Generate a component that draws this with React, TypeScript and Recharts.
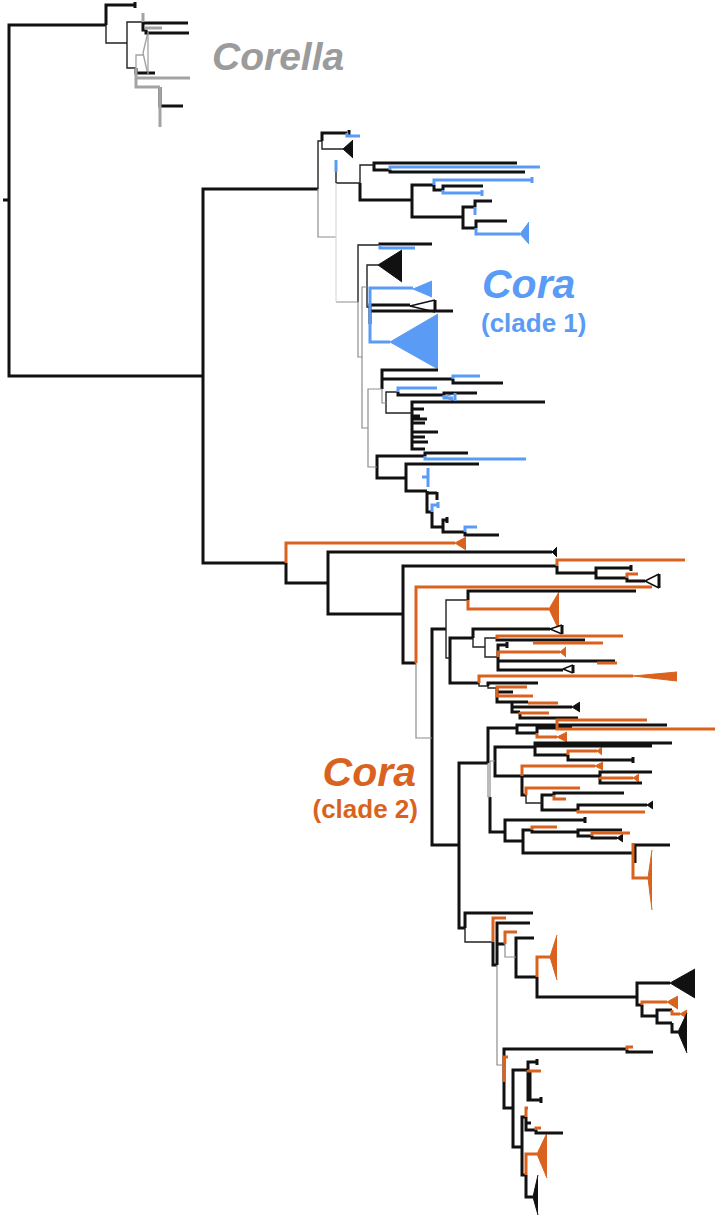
import { Area, ComposedChart, Line, XAxis, YAxis } from "recharts";

// branch elbows: [parentX, parentY, childY, childX, style]
const branches: [number, number, number, number, string][] = [
  // root + backbone
  [3, 200, 200, 9, "k"], [9, 200, 25, 106, "k"], [9, 200, 376, 203, "k"],
  [203, 376, 189, 318, "k"], [203, 376, 563, 286, "k"],
  // Corella
  [106, 25, 5, 135, "k"], [106, 25, 43, 127, "t"], [127, 43, 22, 143, "t"],
  [143, 22, 13, 143, "c"], [143, 22, 23, 188, "k"], [143, 22, 30, 146, "k"],
  [146, 30, 28, 162, "c"], [146, 30, 33, 189, "k"], [127, 43, 68, 136, "t"],
  [136, 68, 55, 143, "cl"], [136, 68, 73, 155, "k"], [136, 68, 78, 190, "c"],
  [136, 68, 87, 160, "c"], [160, 87, 106, 183, "k"], [160, 87, 127, 160, "c"],
  // Cora clade 1
  [318, 189, 141, 322, "t"], [322, 141, 133, 347, "k"], [347, 133, 136, 360, "b"],
  [322, 141, 149, 343, "t"], [318, 189, 237, 336, "g"],
  [336, 237, 183, 336, "w"], [336, 183, 183, 360, "t"], [336, 183, 172, 336, "t"], [336, 172, 160, 336, "b"],
  [336, 237, 302, 336, "w"], [336, 302, 302, 358, "g"],
  [360, 183, 165, 374, "t"], [374, 165, 163, 517, "k"], [374, 165, 170, 390, "k"],
  [390, 170, 167, 540, "b"], [390, 170, 172, 525, "k"],
  [360, 183, 200, 412, "k"], [412, 201, 185, 434, "k"], [434, 185, 180, 532, "b"],
  [434, 185, 190, 443, "k"], [443, 190, 186, 483, "k"], [443, 190, 193, 482, "b"],
  [412, 201, 217, 463, "k"], [463, 217, 207, 475, "k"], [475, 207, 201, 492, "k"],
  [475, 207, 215, 475, "b"], [463, 217, 228, 476, "k"], [476, 228, 221, 507, "k"],
  [476, 228, 234, 520, "b"],
  [358, 302, 245, 380, "t"], [380, 245, 244, 432, "k"], [380, 245, 248, 415, "b"],
  [358, 302, 357, 362, "g"], [362, 357, 287, 367, "g"], [367, 287, 265, 378, "t"],
  [367, 287, 307, 370, "t"], [370, 307, 288, 413, "b"], [370, 307, 305, 410, "k"],
  [370, 307, 311, 453, "k"], [370, 307, 342, 390, "b"], [370, 305, 324, 370, "k"],
  [362, 357, 428, 368, "g"], [368, 428, 389, 382, "g"], [382, 389, 370, 438, "k"],
  [382, 389, 379, 453, "k"], [453, 379, 376, 480, "b"], [453, 379, 383, 503, "k"],
  [382, 389, 403, 386, "g"], [386, 403, 392, 398, "t"], [398, 392, 388, 437, "b"],
  [398, 392, 395, 444, "k"], [444, 395, 393, 477, "k"], [444, 395, 398, 453, "b"],
  [386, 403, 413, 412, "t"], [412, 413, 402, 545, "k"], [412, 413, 409, 424, "k"],
  [412, 413, 416, 420, "k"], [412, 413, 419, 427, "k"], [412, 413, 423, 425, "k"],
  [412, 413, 432, 438, "k"], [412, 413, 437, 425, "k"], [412, 413, 442, 428, "k"],
  [412, 413, 449, 425, "k"],
  [368, 428, 467, 377, "g"], [377, 467, 456, 425, "k"], [425, 456, 453, 468, "k"],
  [425, 456, 459, 526, "b"], [377, 467, 478, 406, "k"], [406, 478, 464, 479, "k"],
  [406, 478, 491, 427, "k"], [428, 487, 468, 428, "b"], [422, 477, 477, 428, "b"],
  [427, 491, 493, 437, "k"], [427, 491, 512, 432, "k"], [432, 512, 505, 438, "b"],
  [432, 512, 527, 443, "k"], [443, 527, 520, 447, "k"], [443, 527, 532, 465, "k"],
  [465, 532, 527, 477, "b"], [465, 532, 535, 499, "k"],
  // Cora clade 2
  [286, 563, 543, 455, "o"], [286, 563, 583, 328, "k"], [328, 583, 552, 552, "k"],
  [328, 583, 614, 403, "k"], [403, 614, 566, 557, "k"], [557, 566, 560, 685, "o"],
  [557, 566, 573, 596, "k"], [596, 573, 568, 631, "k"], [596, 573, 578, 627, "k"],
  [627, 578, 574, 638, "o"], [627, 578, 581, 645, "k"],
  [403, 614, 663, 416, "k"], [416, 663, 587, 652, "o"], [416, 663, 738, 432, "g"],
  [432, 738, 629, 446, "k"], [446, 629, 600, 468, "t"], [468, 600, 591, 636, "k"],
  [468, 600, 609, 549, "o"], [446, 629, 658, 450, "t"], [450, 658, 638, 473, "k"],
  [473, 638, 629, 550, "k"], [473, 638, 647, 485, "t"], [485, 647, 638, 497, "t"],
  [497, 639, 636, 623, "o"], [497, 639, 640, 585, "k"], [533, 643, 643, 603, "o"],
  [485, 647, 657, 498, "t"], [498, 657, 645, 507, "k"], [498, 657, 652, 560, "o"],
  [498, 657, 661, 615, "k"], [597, 663, 663, 617, "o"], [498, 657, 670, 563, "k"],
  [450, 658, 683, 479, "k"], [479, 683, 676, 633, "o"], [479, 683, 686, 488, "t"],
  [488, 686, 683, 538, "k"], [488, 686, 688, 497, "t"], [497, 688, 687, 527, "o"],
  [497, 688, 692, 513, "k"], [497, 688, 696, 533, "o"], [497, 688, 702, 512, "k"],
  [512, 702, 702, 528, "k"], [528, 703, 703, 558, "o"], [512, 702, 707, 572, "k"],
  [512, 702, 712, 520, "k"], [520, 712, 713, 549, "o"], [520, 712, 718, 578, "k"],
  [432, 738, 845, 459, "k"], [459, 845, 763, 488, "k"], [488, 763, 728, 517, "k"],
  [517, 728, 725, 557, "k"], [557, 725, 720, 647, "o"], [557, 725, 725, 667, "k"],
  [557, 725, 729, 715, "o"], [517, 728, 733, 537, "k"], [537, 733, 728, 572, "k"],
  [537, 733, 737, 557, "o"],
  [488, 763, 797, 490, "g"], [490, 797, 761, 495, "g"], [495, 761, 747, 535, "k"],
  [535, 749, 743, 672, "k"], [535, 749, 746, 652, "k"], [535, 749, 755, 568, "k"],
  [568, 755, 751, 597, "o"], [568, 755, 760, 633, "k"],
  [495, 761, 776, 522, "k"], [522, 776, 766, 595, "o"], [522, 776, 776, 600, "k"],
  [600, 777, 772, 652, "k"], [600, 777, 778, 633, "o"], [600, 777, 783, 642, "k"],
  [522, 776, 795, 526, "k"], [526, 795, 788, 580, "o"], [526, 795, 803, 542, "t"],
  [542, 803, 795, 554, "k"], [554, 795, 793, 624, "k"], [554, 795, 799, 566, "o"],
  [542, 803, 810, 578, "k"], [578, 810, 805, 647, "k"], [578, 810, 812, 645, "o"],
  [490, 797, 832, 505, "k"], [505, 832, 820, 585, "k"], [505, 832, 841, 523, "k"],
  [523, 841, 830, 532, "k"], [532, 830, 827, 557, "o"], [532, 830, 832, 578, "k"],
  [578, 832, 830, 622, "k"], [578, 832, 836, 592, "k"], [592, 836, 833, 630, "o"],
  [592, 836, 838, 617, "k"], [523, 841, 853, 635, "k"], [635, 853, 845, 670, "k"],
  [635, 853, 863, 635, "k"], [633, 843, 878, 648, "o"],
  [459, 845, 928, 465, "k"], [465, 928, 913, 533, "k"], [465, 928, 942, 493, "t"],
  [493, 942, 918, 506, "o"], [493, 942, 965, 497, "k"], [497, 965, 923, 530, "k"],
  [497, 965, 944, 505, "k"], [505, 944, 932, 517, "o"], [505, 944, 957, 516, "g"],
  [516, 957, 938, 534, "k"], [516, 957, 977, 537, "k"], [537, 977, 957, 550, "o"],
  [537, 977, 997, 637, "k"], [637, 997, 983, 670, "k"], [637, 997, 1005, 642, "k"],
  [642, 1005, 1002, 667, "o"], [642, 1005, 1016, 657, "k"], [657, 1016, 1010, 672, "k"],
  [672, 1010, 1014, 680, "o"], [657, 1016, 1023, 672, "k"], [672, 1023, 1032, 678, "k"],
  [497, 965, 1065, 504, "g"], [504, 1065, 1049, 627, "k"], [627, 1050, 1047, 633, "o"],
  [627, 1050, 1052, 653, "k"], [504, 1065, 1057, 508, "o"], [504, 1065, 1082, 504, "o"],
  [504, 1065, 1108, 513, "k"], [513, 1108, 1070, 528, "k"], [528, 1070, 1062, 537, "k"],
  [528, 1070, 1071, 541, "o"], [530, 1072, 1100, 530, "k"], [528, 1070, 1100, 541, "k"],
  [513, 1108, 1147, 522, "k"], [522, 1147, 1117, 526, "k"], [526, 1117, 1108, 528, "o"],
  [526, 1117, 1123, 531, "k"], [526, 1117, 1130, 536, "k"], [536, 1130, 1128, 541, "o"],
  [536, 1130, 1133, 563, "k"], [522, 1147, 1175, 526, "k"], [526, 1175, 1154, 537, "o"],
  [526, 1175, 1197, 533, "k"],
];

// tip end bars: [x, y, halfLength, style]
const tipBars: [number, number, number, string][] = [
  [135, 5, 3, "k"], [349, 133, 3, "k"], [532, 180, 3, "b"], [482, 193, 3, "b"],
  [437, 496, 4, "k"], [438, 505, 3, "b"], [447, 520, 3, "k"], [631, 568, 3, "k"],
  [507, 645, 3, "k"], [633, 760, 3, "k"], [585, 820, 3, "k"], [537, 1062, 3, "k"],
  [541, 1100, 3, "k"],
];

// collapsed clades: [apexX, apexY, baseX, baseTop, baseBottom, style]
const clades: [number, number, number, number, number, string][] = [
  [143, 53, 148, 32, 75, "cl-open"],
  [343, 149, 353, 140, 158, "k"],
  [520, 234, 529, 222, 244, "b"],
  [378, 265, 402, 250, 282, "k"],
  [413, 289, 432, 281, 297, "b"],
  [410, 306, 435, 300, 312, "k-open"],
  [390, 342, 438, 314, 369, "b"],
  [444, 397, 455, 393, 401, "b-open"],
  [455, 543, 466, 537, 550, "o"],
  [552, 552, 557, 547, 557, "k"],
  [645, 581, 659, 574, 588, "k-open"],
  [549, 609, 559, 592, 630, "o"],
  [550, 629, 562, 625, 634, "k-open"],
  [560, 652, 566, 647, 657, "o"],
  [563, 669, 573, 665, 673, "k-open"],
  [633, 676, 677, 672, 681, "o"],
  [572, 707, 580, 702, 712, "k"],
  [557, 737, 567, 732, 742, "o"],
  [597, 751, 602, 747, 755, "o"],
  [595, 766, 603, 762, 770, "o"],
  [633, 778, 639, 774, 782, "o"],
  [647, 805, 653, 801, 809, "k"],
  [617, 838, 623, 834, 842, "k"],
  [648, 878, 652, 850, 910, "o"],
  [550, 957, 557, 935, 980, "o"],
  [670, 983, 695, 969, 998, "k"],
  [667, 1002, 678, 996, 1009, "o"],
  [680, 1014, 687, 1010, 1018, "o"],
  [678, 1032, 687, 1013, 1053, "k"],
  [537, 1154, 547, 1133, 1178, "o"],
  [533, 1197, 538, 1175, 1215, "k"],
];

const BLUE = "#5a9cf5";
const ORANGE = "#d9631e";
const GREY = "#9b9b9b";

const styles: Record<string, { stroke: string; width: number }> = {
  k: { stroke: "#111", width: 3 },
  t: { stroke: "#222", width: 1.4 },
  g: { stroke: "#8e8e8e", width: 1.2 },
  w: { stroke: "#d4d4d4", width: 1 },
  b: { stroke: BLUE, width: 3 },
  o: { stroke: ORANGE, width: 3 },
  c: { stroke: "#a3a3a3", width: 3 },
  cl: { stroke: "#a3a3a3", width: 1.3 },
};

const cladeColor: Record<string, string> = { k: "#111", b: BLUE, o: ORANGE, cl: "#a3a3a3" };

const lineData = (style: string) => {
  const pts: { x: number; y: number | null }[] = [];
  branches.filter((b) => b[4] === style).forEach(([px, py, cy, cx]) => {
    pts.push({ x: px, y: py }, { x: px, y: cy }, { x: cx, y: cy }, { x: cx, y: null });
  });
  tipBars.filter((t) => t[3] === style).forEach(([x, y, h]) => {
    pts.push({ x, y: y - h }, { x, y: y + h }, { x, y: null });
  });
  clades.filter((c) => c[5] === style + "-open").forEach(([, , bx, top, bot]) => {
    pts.push({ x: bx, y: top }, { x: bx, y: bot }, { x: bx, y: null });
  });
  return pts;
};

const font = "'Liberation Sans', Arial, sans-serif";

const App = () => {
  return (
    <div>
      <style>{"body{margin:0}"}</style>
      <ComposedChart width={718} height={1218} margin={{ top: 0, right: 0, bottom: 0, left: 0 }}>
        <XAxis dataKey="x" type="number" domain={[0, 718]} allowDataOverflow hide />
        <YAxis type="number" domain={[0, 1218]} reversed allowDataOverflow hide />
        {clades.map(([ax, ay, bx, top, bot, style], i) => {
          const open = style.endsWith("-open");
          const col = cladeColor[style.replace("-open", "")];
          return (
            <Area
              key={"c" + i}
              data={[{ x: ax, r: [ay, ay] }, { x: bx, r: [top, bot] }]}
              dataKey="r"
              type="linear"
              stroke={col}
              strokeWidth={open ? 1.4 : 1}
              fill={open ? "#fff" : col}
              fillOpacity={1}
              dot={false}
              activeDot={false}
              isAnimationActive={false}
            />
          );
        })}
        {Object.keys(styles).map((s) => (
          <Line
            key={s}
            data={lineData(s)}
            dataKey="y"
            type="linear"
            stroke={styles[s].stroke}
            strokeWidth={styles[s].width}
            dot={false}
            activeDot={false}
            connectNulls={false}
            isAnimationActive={false}
          />
        ))}
        <text x={212} y={70} fontFamily={font} fontWeight="bold" fontStyle="italic" fontSize={39} fill={GREY}>
          Corella
        </text>
        <text x={482} y={298} fontFamily={font} fontWeight="bold" fontStyle="italic" fontSize={41} fill={BLUE}>
          Cora
        </text>
        <text x={481} y={332} fontFamily={font} fontWeight="bold" fontSize={26} fill={BLUE}>
          (clade 1)
        </text>
        <text x={416} y={786} textAnchor="end" fontFamily={font} fontWeight="bold" fontStyle="italic" fontSize={41} fill={ORANGE}>
          Cora
        </text>
        <text x={418} y={818} textAnchor="end" fontFamily={font} fontWeight="bold" fontSize={26} fill={ORANGE}>
          (clade 2)
        </text>
      </ComposedChart>
    </div>
  );
};

export default App;
